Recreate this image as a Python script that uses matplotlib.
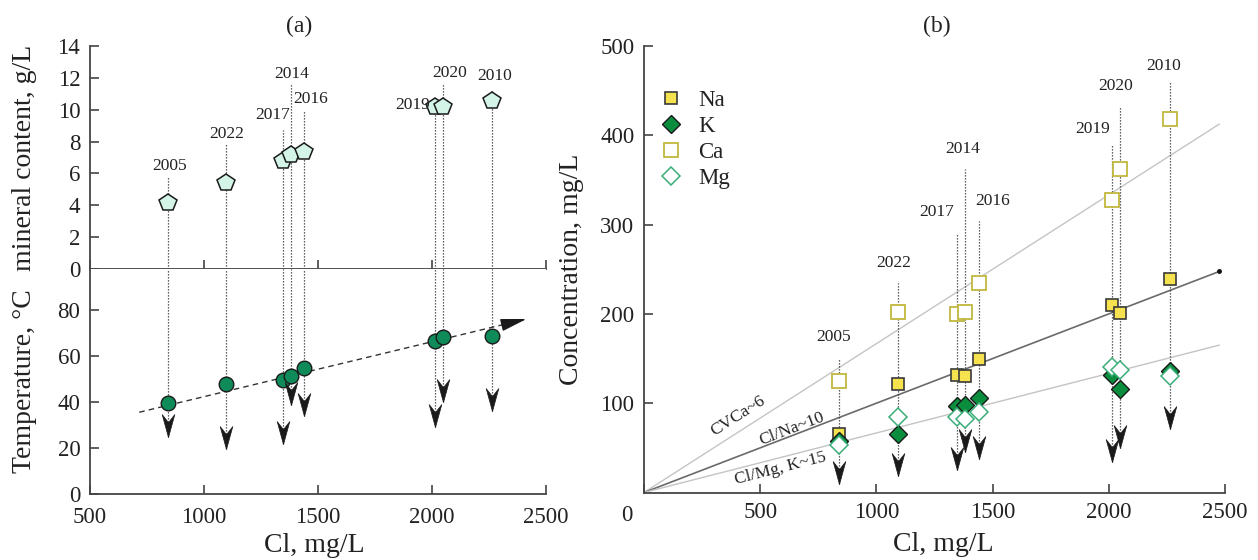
import numpy as np
import matplotlib
matplotlib.use('Agg')
import matplotlib.pyplot as plt
from matplotlib.path import Path

plt.rcParams['font.family'] = ['Liberation Serif', 'DejaVu Serif']

# ---------------- data ----------------
years = ['2005', '2022', '2017', '2014', '2016', '2019', '2020', '2010']
cl = [840, 1095, 1345, 1380, 1440, 2015, 2050, 2262]
mineral = [4.17, 5.39, 6.81, 7.17, 7.34, 10.2, 10.2, 10.52]
temperature = [39.6, 47.7, 49.6, 51.2, 54.6, 66.3, 68.0, 68.6]
na = [66, 122, 132, 131, 150, 210, 201, 239]
k = [58, 65, 97, 98, 106, 132, 116, 136]
ca = [125, 202, 200, 202, 235, 327, 362, 418]
mg = [53, 84, 84, 82, 90, 140, 137, 131]

# panel (a) annotations
a_line_top = [5.76, 7.82, 8.70, 11.67, 9.96, 10.3, 11.59, 11.25]
a_arrow_tip = [24.8, 19.7, 21.9, 38.5, 33.7, 29.1, 40.0, 36.0]
a_label_x = [848, 1098, 1302, 1385, 1468, 1913, 2079, 2274]
a_label_y = [6.45, 8.49, 9.68, 12.26, 10.69, 10.27, 12.32, 12.11]
trend_x = [716, 2415]
trend_y = [35.5, 76.0]

# panel (b) annotations
b_line_top = [149, 235, 291, 362, 304, 389, 433, 461]
b_arrow_tip = [10, 18, 25, 45, 38, 34, 50, 71]
b_label_x = [816, 1073, 1259, 1372, 1500, 1929, 2030, 2234]
b_label_y = [174, 257, 314, 385, 326, 407, 455, 478]

ratio_names = ['CVCa~6', 'Cl/Na~10', 'Cl/Mg, K~15']
ratio_values = [6, 10, 15]
ratio_colors = ['#c4c4c4', '#6a6a6a', '#c4c4c4']
ratio_widths = [1.0, 1.2, 1.0]
ratio_label_x = [404, 634, 586]
ratio_label_y = [86, 71, 27]
ratio_line_end = 2475

a_xticks = [500, 1000, 1500, 2000, 2500]
a_top_yticks = [0, 2, 4, 6, 8, 10, 12, 14]
a_bot_yticks = [0, 20, 40, 60, 80]
b_xticks = [0, 500, 1000, 1500, 2000, 2500]
b_yticks = [100, 200, 300, 400, 500]

# ---------------- styles ----------------
W, H = 1258, 560
SPINE = '#444444'
DOT = '#333333'
TXT = '#222222'
TICK_FS = 16.5
arrow_marker = Path([(0, 0), (-0.55, 2.0), (0, 1.3), (0.55, 2.0), (0, 0)],
                    [Path.MOVETO, Path.LINETO, Path.LINETO, Path.LINETO, Path.CLOSEPOLY])


def rect(l, t, r, b):
    return [l / W, 1 - b / H, (r - l) / W, (b - t) / H]


def style(ax):
    for s in ('top', 'right'):
        ax.spines[s].set_visible(False)
    for s in ('left', 'bottom'):
        ax.spines[s].set_color(SPINE)
        ax.spines[s].set_linewidth(1.3)
    ax.tick_params(direction='in', length=6.5, width=1.2, color=SPINE,
                   labelsize=TICK_FS, pad=7, labelcolor=TXT)


fig = plt.figure(figsize=(12.58, 5.6), dpi=100)
ax_top = fig.add_axes(rect(90, 46, 546, 269))
ax_bot = fig.add_axes(rect(90, 269, 546, 494))
ax_b = fig.add_axes(rect(644, 46, 1225, 492.5))

dotted = dict(color=DOT, linewidth=0.9, linestyles=(0, (1, 1.4)), zorder=1)

# ---------------- panel (a) top ----------------
style(ax_top)
ax_top.set_xlim(500, 2500)
ax_top.set_ylim(0, 14)
ax_top.set_xticks(a_xticks)
ax_top.set_yticks(a_top_yticks)
ax_top.tick_params(labelbottom=False)
ax_top.vlines(cl, 0, a_line_top, **dotted)
ax_top.plot(cl, mineral, 'p', ms=13, mfc='#d3f4e6', mec='#1a1a1a', mew=1.1, zorder=3)
for yr, x, y in zip(years, a_label_x, a_label_y):
    ax_top.text(x, y, yr, fontsize=12.5, ha='center', va='center', color=TXT, zorder=4)
ax_top.set_ylabel('mineral content, g/L', fontsize=20, color=TXT)
ax_top.yaxis.set_label_coords(-0.116, 0.5)

# ---------------- panel (a) bottom ----------------
style(ax_bot)
ax_bot.set_xlim(500, 2500)
ax_bot.set_ylim(0, 97.7)
ax_bot.set_xticks(a_xticks)
ax_bot.set_yticks(a_bot_yticks)
ax_bot.tick_params(axis='x', pad=9.5)
ax_bot.vlines(cl, a_arrow_tip, ax_bot.get_ylim()[1], **dotted)
ax_bot.plot(cl, a_arrow_tip, linestyle='none', marker=arrow_marker, ms=33,
            mfc='#1a1a1a', mec='#1a1a1a', mew=0.5, zorder=4)
ax_bot.plot(trend_x, trend_y, color='#333333', lw=1.0, dashes=(4, 3), zorder=2)
frac = 0.94
ax_bot.annotate('', xy=(trend_x[1], trend_y[1]),
                xytext=(trend_x[0] + frac * (trend_x[1] - trend_x[0]),
                        trend_y[0] + frac * (trend_y[1] - trend_y[0])),
                arrowprops=dict(arrowstyle='-|>,head_length=1.6,head_width=0.38',
                                color='#1a1a1a', lw=1.0, shrinkA=0, shrinkB=0),
                zorder=3)
ax_bot.plot(cl, temperature, 'o', ms=10.5, mfc='#0f8a59', mec='#1a1a1a', mew=1.0, zorder=3)
ax_bot.set_ylabel('Temperature, \u00b0C', fontsize=20, color=TXT)
ax_bot.yaxis.set_label_coords(-0.116, 0.5)
ax_bot.set_xlabel('Cl, mg/L', fontsize=20, color=TXT)
ax_bot.xaxis.set_label_coords(0.491, -0.172)

# ---------------- panel (b) ----------------
style(ax_b)
ax_b.set_xlim(0, 2500)
ax_b.set_ylim(0, 500)
ax_b.set_xticks(b_xticks)
ax_b.set_xticklabels([''] + [str(v) for v in b_xticks[1:]])
ax_b.set_yticks(b_yticks)
ax_b.annotate('0', xy=(0, 0), xycoords=('data', 'axes fraction'), xytext=(-17, -23),
              textcoords='offset pixels', ha='center', va='center', fontsize=TICK_FS, color=TXT)

xs = np.array([0, ratio_line_end], dtype=float)
for r, c, lw in zip(ratio_values, ratio_colors, ratio_widths):
    ax_b.plot(xs, xs / r, color=c, lw=lw, zorder=1)
ax_b.plot([ratio_line_end], [ratio_line_end / ratio_values[1]], 'o', ms=2.5, color='#111111', zorder=2)

for name, r, x, y in zip(ratio_names, ratio_values, ratio_label_x, ratio_label_y):
    ang = ax_b.transData.transform_angles(np.array([np.degrees(np.arctan(1.0 / r))]),
                                          np.array([[x, y]]))[0]
    ax_b.text(x, y, name, fontsize=12.5, rotation=ang, rotation_mode='anchor',
              ha='center', va='center', color=TXT)

ax_b.vlines(cl, b_arrow_tip, b_line_top, **dotted)
ax_b.plot(cl, b_arrow_tip, linestyle='none', marker=arrow_marker, ms=33,
          mfc='#1a1a1a', mec='#1a1a1a', mew=0.5, zorder=6)

ax_b.plot(cl, na, 's', ms=9, mfc='#f6e24e', mec='#3a3a3a', mew=1.2, label='Na', zorder=3)
ax_b.plot(cl, k, 'D', ms=9, mfc='#0b8d3e', mec='#1a1a1a', mew=1.0, label='K', zorder=4)
ax_b.plot(cl, ca, 's', ms=9.5, mfc='white', mec='#c2b840', mew=1.3, label='Ca', zorder=3)
ax_b.plot(cl, mg, 'D', ms=9, mfc='white', mec='#3aae78', mew=1.1, label='Mg', zorder=5)

for yr, x, y in zip(years, b_label_x, b_label_y):
    ax_b.text(x, y, yr, fontsize=12.5, ha='center', va='center', color=TXT)

ax_b.legend(loc='upper left', bbox_to_anchor=(0.026, 0.902), frameon=False, fontsize=16.5,
            handlelength=1.0, handletextpad=0.7, labelspacing=0.22, borderpad=0,
            borderaxespad=0, numpoints=1, labelcolor=TXT)

ax_b.set_ylabel('Concentration, mg/L', fontsize=20, color=TXT)
ax_b.yaxis.set_label_coords(-0.103, 0.5)
ax_b.set_xlabel('Cl, mg/L', fontsize=20, color=TXT)
ax_b.xaxis.set_label_coords(0.5146, -0.088)

fig.text(299 / W, 1 - 26 / H, '(a)', ha='center', va='center', fontsize=17, color=TXT)
fig.text(937 / W, 1 - 26 / H, '(b)', ha='center', va='center', fontsize=17, color=TXT)

fig.savefig('out.png', dpi=100)
